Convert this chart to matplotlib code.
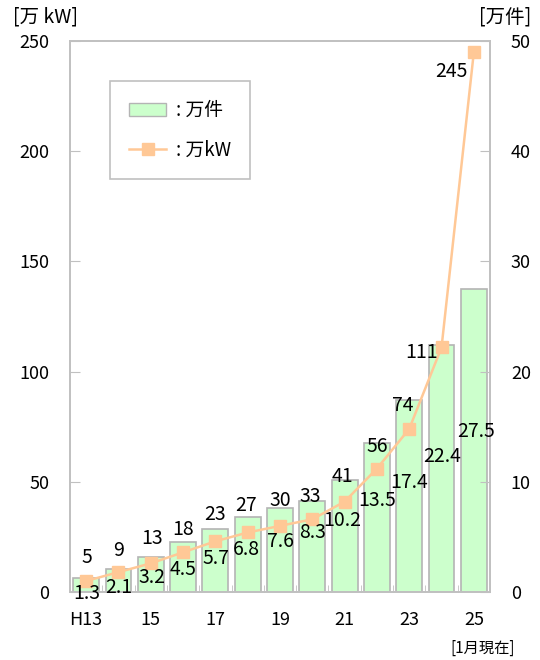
import matplotlib
matplotlib.use("Agg")
import matplotlib.pyplot as plt
from matplotlib.patches import Patch
from matplotlib.lines import Line2D

plt.rcParams['font.family'] = ['Noto Sans CJK JP', 'DejaVu Sans']

# data
years = ['H13', '14', '15', '16', '17', '18', '19', '20', '21', '22', '23', '24', '25']
capacity_kw = [5, 9, 13, 18, 23, 27, 30, 33, 41, 56, 74, 111, 245]     # 万kW, left axis
count = [1.3, 2.1, 3.2, 4.5, 5.7, 6.8, 7.6, 8.3, 10.2, 13.5, 17.4, 22.4, 27.5]  # 万件, right axis
tick_labels = ['H13', '15', '17', '19', '21', '23', '25']

# label offsets in pixels (dx, dy), relative to each line point
kw_offsets = [(1, 23), (0, 22), (1, 25), (0, 23), (0, 27), (-2, 27), (0, 25),
              (-2, 23), (-2, 25), (0, 22), (-6, 23), (-20, -5), (-22, -19)]
cnt_offsets = [(1, -13), (0, -15), (1, -14), (0, -17), (1, -17), (-1, -17), (0, -16),
               (0, -13), (-2, -19), (0, -32), (0, -54), (1, -109), (2, -379)]

bar_color = '#ccffcc'
edge_color = '#b4b4b4'
line_color = '#ffc896'
spine_color = '#c0c0c0'

fig = plt.figure(figsize=(5.4, 6.6), dpi=100)
ax1 = fig.add_axes([70 / 540, 68 / 660, 420 / 540, 551 / 660])
ax2 = ax1.twinx()

x = list(range(len(years)))
ax2.bar(x, count, width=0.8, color=bar_color, edgecolor=edge_color, linewidth=1.2)
ax1.plot(x, capacity_kw, color=line_color, linewidth=1.8, marker='s',
         markersize=9, markerfacecolor=line_color, markeredgecolor=line_color)

ax1.set_zorder(ax2.get_zorder() + 1)
ax1.patch.set_visible(False)

ax1.set_xlim(-0.5, len(years) - 0.5)
ax1.set_ylim(0, 250)
ax2.set_ylim(0, 50)
ax1.set_yticks([0, 50, 100, 150, 200, 250])
ax2.set_yticks([0, 10, 20, 30, 40, 50])

ax1.set_xticks(x[::2])
ax1.set_xticklabels(tick_labels)
ax1.set_xticks([i - 0.5 for i in range(1, len(years))], minor=True)
ax1.tick_params(axis='x', which='major', length=0, pad=14, labelsize=13)
ax1.tick_params(axis='x', which='minor', direction='in', length=5, color=spine_color)
ax1.tick_params(axis='y', direction='in', length=7, color=spine_color, pad=15, labelsize=13)
ax2.tick_params(axis='y', direction='in', length=7, color=spine_color, pad=15, labelsize=13)

for ax in (ax1, ax2):
    for s in ax.spines.values():
        s.set_color(spine_color)
        s.set_linewidth(1.2)

for i in x:
    ax1.annotate(str(capacity_kw[i]), (i, capacity_kw[i]), xytext=kw_offsets[i],
                 textcoords='offset pixels', ha='center', va='center', fontsize=14, zorder=5)
    ax1.annotate(f'{count[i]:.1f}', (i, capacity_kw[i]), xytext=cnt_offsets[i],
                 textcoords='offset pixels', ha='center', va='center', fontsize=14, zorder=5)

fig.text(13 / 540, 1 - 17 / 660, '[万 kW]', fontsize=14, ha='left', va='center')
fig.text(531 / 540, 1 - 17 / 660, '[万件]', fontsize=14, ha='right', va='center')
fig.text(515 / 540, 1 - 648 / 660, '[1月現在]', fontsize=11, ha='right', va='center')

handles = [Patch(facecolor=bar_color, edgecolor=edge_color),
           Line2D([], [], color=line_color, linewidth=1.8, marker='s',
                  markersize=9, markerfacecolor=line_color, markeredgecolor=line_color)]
leg = ax1.legend(handles, [': 万件', ': 万kW'], loc='upper left',
                 bbox_to_anchor=(40 / 420, (592 - 81) / 551), borderaxespad=0,
                 fontsize=13.5, frameon=True, fancybox=False, framealpha=1,
                 edgecolor=spine_color, borderpad=1.0, labelspacing=1.0,
                 handlelength=2.0, handletextpad=0.5)
leg.get_frame().set_linewidth(1.2)

fig.savefig('out.png', dpi=100)
